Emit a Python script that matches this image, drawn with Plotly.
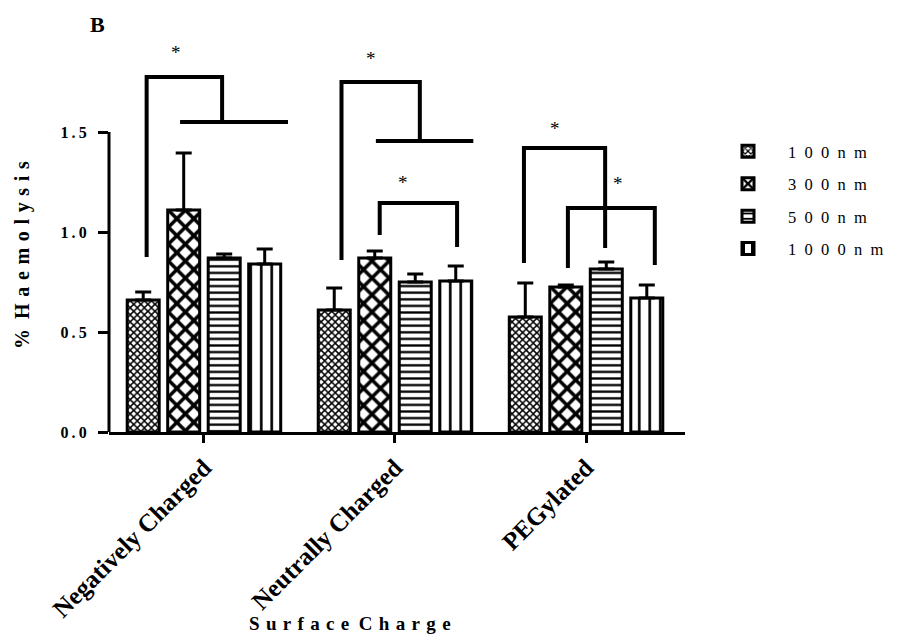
import plotly.graph_objects as go

# ---- data ----
categories = ["Negatively Charged", "Neutrally Charged", "PEGylated"]
sizes = ["100nm", "300nm", "500nm", "1000nm"]
values = {
    "100nm": [0.66, 0.61, 0.575],
    "300nm": [1.11, 0.87, 0.725],
    "500nm": [0.87, 0.75, 0.815],
    "1000nm": [0.84, 0.755, 0.67],
}
errors = {
    "100nm": [0.04, 0.11, 0.17],
    "300nm": [0.285, 0.035, 0.01],
    "500nm": [0.02, 0.04, 0.035],
    "1000nm": [0.075, 0.075, 0.065],
}
y_ticks = [0.0, 0.5, 1.0, 1.5]

# significance brackets: (x_left, y_left_bottom, x_right, y_right_bottom, y_top)
brackets = [
    (-0.30, 0.875, 0.095, 1.555, 1.775),
    (0.72, 0.86, 1.13, 1.46, 1.75),
    (0.92, 0.985, 1.325, 0.925, 1.145),
    (1.675, 0.845, 2.10, 0.92, 1.42),
    (1.905, 0.82, 2.36, 0.835, 1.12),
]
# horizontal bars hanging beneath brackets (x0, x1, y)
hbars = [(-0.125, 0.44, 1.55), (0.90, 1.41, 1.455)]
stars = [(-0.147, 1.90), (0.875, 1.87), (1.042, 1.25), (1.838, 1.52), (2.168, 1.245)]

patterns = {
    "100nm": dict(shape="x", size=5, solidity=0.5),
    "300nm": dict(shape="x", size=12, solidity=0.5),
    "500nm": dict(shape="-", size=6.6, solidity=0.35),
    "1000nm": dict(shape="|", size=10.5, solidity=0.25),
}

FONT = "Liberation Serif"
EN = "\u2002"
THREE = "\u2004"
THIN = "\u2009"


def spaced(s, gap):
    return gap.join(list(s))


# layout geometry (page has an 8px body margin)
W, H = 890, 628
ML, MT = 101, 24
PW, PH = 576, 400
MR, MB = W - ML - PW, H - MT - PH


def px(xp):  # page pixel x -> paper
    return (xp - 109) / PW


def py(yp):  # page pixel y -> paper
    return (432 - yp) / PH


fig = go.Figure()
xs = list(range(len(categories)))
for i, s in enumerate(sizes):
    p = patterns[s]
    fig.add_trace(go.Bar(
        x=xs, y=values[s], name=spaced(s, EN), legendgroup=s,
        marker=dict(color="white", line=dict(color="black", width=3),
                    pattern=dict(shape=p["shape"], size=p["size"], solidity=p["solidity"],
                                 fgcolor="black", bgcolor="white", fillmode="replace")),
        error_y=dict(type="data", array=errors[s], arrayminus=[0] * len(xs), symmetric=False,
                     color="black", thickness=3, width=8),
    ))

shapes = []
for xl, yl, xr, yr, yt in brackets:
    shapes.append(dict(type="path", xref="x", yref="y",
                       path=f"M {xl},{yl} L {xl},{yt} L {xr},{yt} L {xr},{yr}",
                       line=dict(color="black", width=4)))
for x0, x1, y in hbars:
    shapes.append(dict(type="line", xref="x", yref="y", x0=x0, x1=x1, y0=y, y1=y,
                       line=dict(color="black", width=4)))
# y axis line only up to 1.5
shapes.append(dict(type="line", xref="paper", yref="y", x0=0, x1=0, y0=0, y1=y_ticks[-1],
                   line=dict(color="black", width=3)))

annotations = [dict(x=x, y=y, xref="x", yref="y", text="*", showarrow=False,
                    font=dict(family=FONT, size=19, color="black")) for x, y in stars]
annotations.append(dict(text="B", x=px(97), y=py(25), xref="paper", yref="paper",
                        showarrow=False, font=dict(family=FONT, size=22, color="black", weight="bold"),
                        xanchor="center", yanchor="middle"))
annotations.append(dict(text="%" + EN + spaced("Haemolysis", THREE), x=px(22), y=py(255),
                        xref="paper", yref="paper", textangle=-90, showarrow=False,
                        font=dict(family=FONT, size=20, color="black", weight="bold"),
                        xanchor="center", yanchor="middle"))
annotations.append(dict(text=spaced("Surface", THREE) + EN + spaced("Charge", THREE),
                        x=px(350), y=py(623), xref="paper", yref="paper", showarrow=False,
                        font=dict(family=FONT, size=19, color="black", weight="bold"),
                        xanchor="center", yanchor="middle"))

fig.update_layout(
    width=W, height=H, autosize=False,
    margin=dict(l=ML, r=MR, t=MT, b=MB, autoexpand=False),
    plot_bgcolor="white", paper_bgcolor="white",
    barmode="group", bargap=0.152, bargroupgap=0.21,
    font=dict(family=FONT, color="black"),
    xaxis=dict(range=[-0.497, 2.518], tickvals=xs, ticktext=categories, tickangle=-45,
               showline=True, linecolor="black", linewidth=3, ticks="outside", ticklen=8,
               tickwidth=3, tickcolor="black", showgrid=False, zeroline=False,
               tickfont=dict(family=FONT, size=25, color="black", weight="bold")),
    yaxis=dict(range=[0, 2.0], tickvals=y_ticks, ticktext=[spaced(f"{v:.1f}", THIN) for v in y_ticks],
               showline=False, ticks="outside", ticklen=10, tickwidth=3, tickcolor="black",
               ticklabelstandoff=8,
               showgrid=False, zeroline=False,
               tickfont=dict(family=FONT, size=16, color="black", weight="bold")),
    legend=dict(x=px(708), y=py(134), xanchor="left", yanchor="top", tracegroupgap=8,
                itemwidth=70, borderwidth=0,
                font=dict(family=FONT, size=16.5, color="black"), bgcolor="rgba(0,0,0,0)"),
    shapes=shapes, annotations=annotations,
)

fig.write_html("out.html")
